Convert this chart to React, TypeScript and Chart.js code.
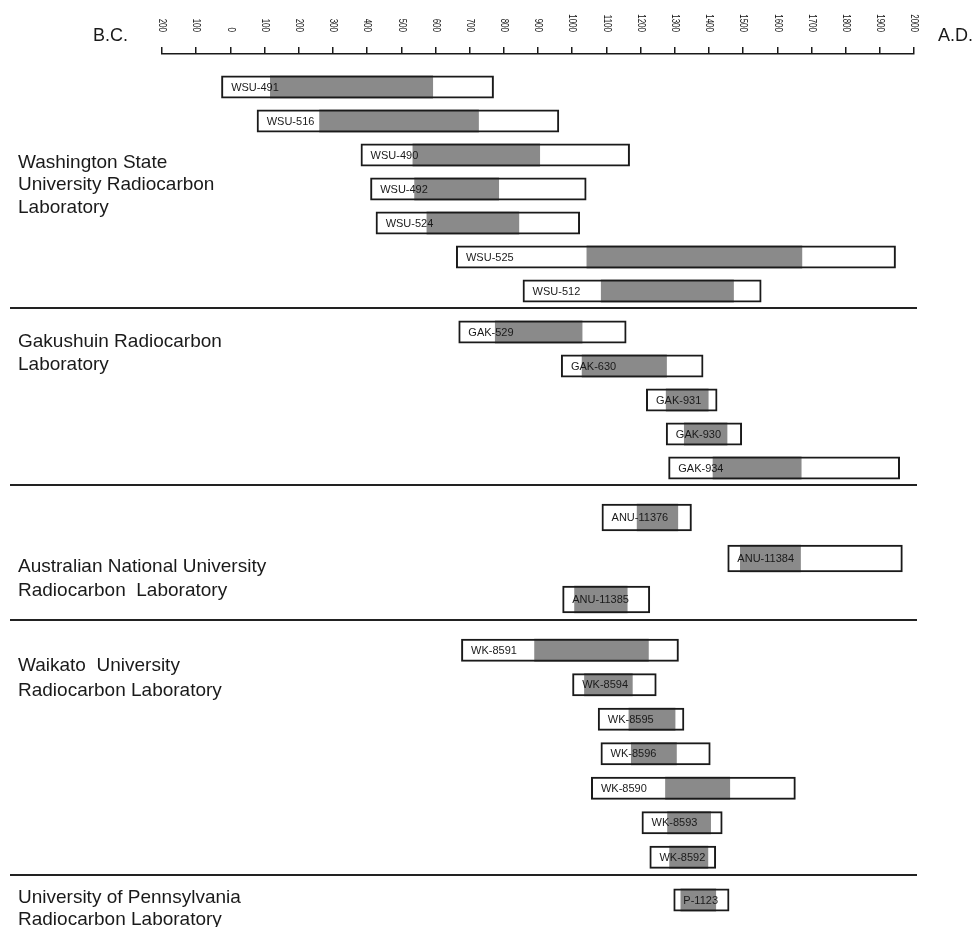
import React, { useEffect, useRef } from 'react';
import { Chart, registerables } from 'chart.js';

Chart.register(...registerables);

// ---------------- data (calendar years; negative = B.C.) ----------------
const sampleIds = [
  'WSU-491', 'WSU-516', 'WSU-490', 'WSU-492', 'WSU-524', 'WSU-525', 'WSU-512',
  'GAK-529', 'GAK-630', 'GAK-931', 'GAK-930', 'GAK-934',
  'ANU-11376', 'ANU-11384', 'ANU-11385',
  'WK-8591', 'WK-8594', 'WK-8595', 'WK-8596', 'WK-8590', 'WK-8593', 'WK-8592',
  'P-1123',
];
// 2-sigma ranges (white boxes)
const outerStart = [-27, 77, 381, 409, 425, 660, 855, 667, 967, 1216, 1274, 1281, 1086, 1454, 971, 675, 1000, 1075, 1083, 1055, 1203, 1226, 1296];
const outerEnd = [771, 962, 1169, 1042, 1023, 1947, 1554, 1159, 1384, 1425, 1497, 1959, 1350, 1967, 1228, 1312, 1247, 1328, 1405, 1654, 1440, 1421, 1460];
// 1-sigma ranges (grey boxes)
const innerStart = [116, 260, 533, 538, 574, 1042, 1084, 774, 1028, 1274, 1327, 1411, 1189, 1491, 1006, 889, 1035, 1165, 1172, 1272, 1278, 1284, 1317];
const innerEnd = [593, 727, 906, 786, 845, 1673, 1473, 1030, 1277, 1399, 1454, 1671, 1310, 1669, 1162, 1224, 1177, 1302, 1306, 1462, 1406, 1398, 1421];

const labNames = [
  'Washington State\nUniversity Radiocarbon\nLaboratory',
  'Gakushuin Radiocarbon\nLaboratory',
  'Australian National University\nRadiocarbon  Laboratory',
  'Waikato  University\nRadiocarbon Laboratory',
  'University of Pennsylvania\nRadiocarbon Laboratory',
];
const labSampleCounts = [7, 5, 3, 7, 1];

const axisMinYear = -200;
const axisMaxYear = 2000;
const axisStepYears = 100;

// ---------------- layout / style ----------------
const FONT = '"Liberation Sans", Arial, Helvetica, sans-serif';
const padWeights = [16, 7, 12, 13, 8.5];
const bandWeights = [238, 170, 123, 241.5, 34];
const titleOffset = [98, 32, 75, 38, 20];
const titleLineHeight = [22.3, 23.4, 24.3, 25, 22];
const GREY = '#8a8a8a';
const INK = '#1a1a1a';

export default function App() {
  const ref = useRef<HTMLCanvasElement>(null);

  useEffect(() => {
    const canvas = ref.current;
    if (!canvas) return;

    // split samples into lab groups
    const groupIds: string[][] = [];
    const groupOuter: number[][][] = [];
    const groupInner: number[][][] = [];
    let k = 0;
    labSampleCounts.forEach((n) => {
      const ids: string[] = [];
      const o: number[][] = [];
      const inn: number[][] = [];
      for (let i = 0; i < n; i++, k++) {
        ids.push(sampleIds[k]);
        o.push([outerStart[k], outerEnd[k]]);
        inn.push([innerStart[k], innerEnd[k]]);
      }
      groupIds.push(ids);
      groupOuter.push(o);
      groupInner.push(inn);
    });

    const scales: any = {
      x: {
        type: 'linear',
        position: 'top',
        min: axisMinYear,
        max: axisMaxYear,
        ticks: { stepSize: axisStepYears, display: false, autoSkip: false, maxTicksLimit: 40 },
        grid: { drawOnChartArea: false, drawTicks: true, tickLength: 7, color: INK, lineWidth: 1.5 },
        border: { display: true, color: INK, width: 1.5 },
        afterFit: (s: any) => { s.height = 54; },
      },
    };
    let w = 100;
    labNames.forEach((_, g) => {
      scales[`pad${g}`] = {
        type: 'category', axis: 'y', position: 'left', labels: [''],
        stack: 'rows', stackWeight: padWeights[g], weight: w--, display: false,
      };
      scales[`g${g}`] = {
        type: 'category', axis: 'y', position: 'left', labels: groupIds[g],
        stack: 'rows', stackWeight: bandWeights[g], weight: w--, display: false, offset: true,
      };
    });

    const datasets: any[] = [];
    const outerIndex: { ds: number; g: number }[] = [];
    labNames.forEach((_, g) => {
      datasets.push({
        label: `inner-${g}`,
        data: groupInner[g],
        yAxisID: `g${g}`,
        backgroundColor: GREY,
        borderWidth: 0,
        grouped: false,
        order: 2,
        barPercentage: 0.67,
        categoryPercentage: 1,
      });
      outerIndex.push({ ds: datasets.length, g });
      datasets.push({
        label: `outer-${g}`,
        data: groupOuter[g],
        yAxisID: `g${g}`,
        backgroundColor: 'rgba(0,0,0,0)',
        borderColor: INK,
        borderWidth: 2,
        borderSkipped: false,
        grouped: false,
        order: 1,
        barPercentage: 0.67,
        categoryPercentage: 1,
      });
    });

    const overlay = {
      id: 'overlay',
      beforeDraw(chart: any) {
        const c = chart.ctx;
        c.save();
        c.fillStyle = '#ffffff';
        c.fillRect(0, 0, chart.width, chart.height);
        c.restore();
      },
      afterDraw(chart: any) {
        const c = chart.ctx;
        const xs = chart.scales.x;
        c.save();
        // rotated year labels
        c.fillStyle = '#111';
        c.font = `10px ${FONT}`;
        c.textAlign = 'right';
        c.textBaseline = 'middle';
        xs.ticks.forEach((t: any) => {
          const px = xs.getPixelForValue(t.value);
          c.save();
          c.translate(px, 32);
          c.rotate(Math.PI / 2);
          c.scale(0.8, 1);
          c.fillText(String(Math.abs(t.value)), 0, 0);
          c.restore();
        });
        // era labels
        c.fillStyle = '#1a1a1a';
        c.font = `18px ${FONT}`;
        c.textBaseline = 'alphabetic';
        c.textAlign = 'right';
        c.fillText('B.C.', xs.left - 34, 41);
        c.textAlign = 'left';
        c.fillText('A.D.', xs.right + 24, 41);
        // separators between laboratories
        c.strokeStyle = '#222';
        c.lineWidth = 2;
        for (let g = 1; g < labNames.length; g++) {
          const y = Math.round(chart.scales[`pad${g}`].top);
          c.beginPath();
          c.moveTo(10, y);
          c.lineTo(xs.right + 3, y);
          c.stroke();
        }
        // laboratory titles
        c.fillStyle = '#1a1a1a';
        c.font = `19px ${FONT}`;
        c.textAlign = 'left';
        labNames.forEach((name, g) => {
          const top = chart.scales[`g${g}`].top;
          name.split('\n').forEach((line, i) => {
            c.fillText(line, 18, top + titleOffset[g] + i * titleLineHeight[g]);
          });
        });
        // sample labels inside boxes
        c.font = `11px ${FONT}`;
        c.fillStyle = '#1a1a1a';
        c.textBaseline = 'middle';
        outerIndex.forEach(({ ds, g }) => {
          const meta = chart.getDatasetMeta(ds);
          meta.data.forEach((el: any, i: number) => {
            const left = Math.min(el.x, el.base);
            c.fillText(groupIds[g][i], left + 10, el.y + 0.5);
          });
        });
        c.restore();
      },
    };

    const chart = new Chart(canvas, {
      type: 'bar',
      data: { labels: [], datasets },
      options: {
        indexAxis: 'y',
        responsive: false,
        animation: false,
        layout: { padding: { left: 162, right: 60, top: 0, bottom: 10 } },
        plugins: { legend: { display: false }, tooltip: { enabled: false } },
        scales,
      } as any,
      plugins: [overlay],
    });

    return () => chart.destroy();
  }, []);

  return (
    <div style={{ position: 'absolute', left: 0, top: 0, width: 974, height: 927, background: '#fff' }}>
      <canvas ref={ref} width={974} height={927} style={{ display: 'block' }} />
    </div>
  );
}
